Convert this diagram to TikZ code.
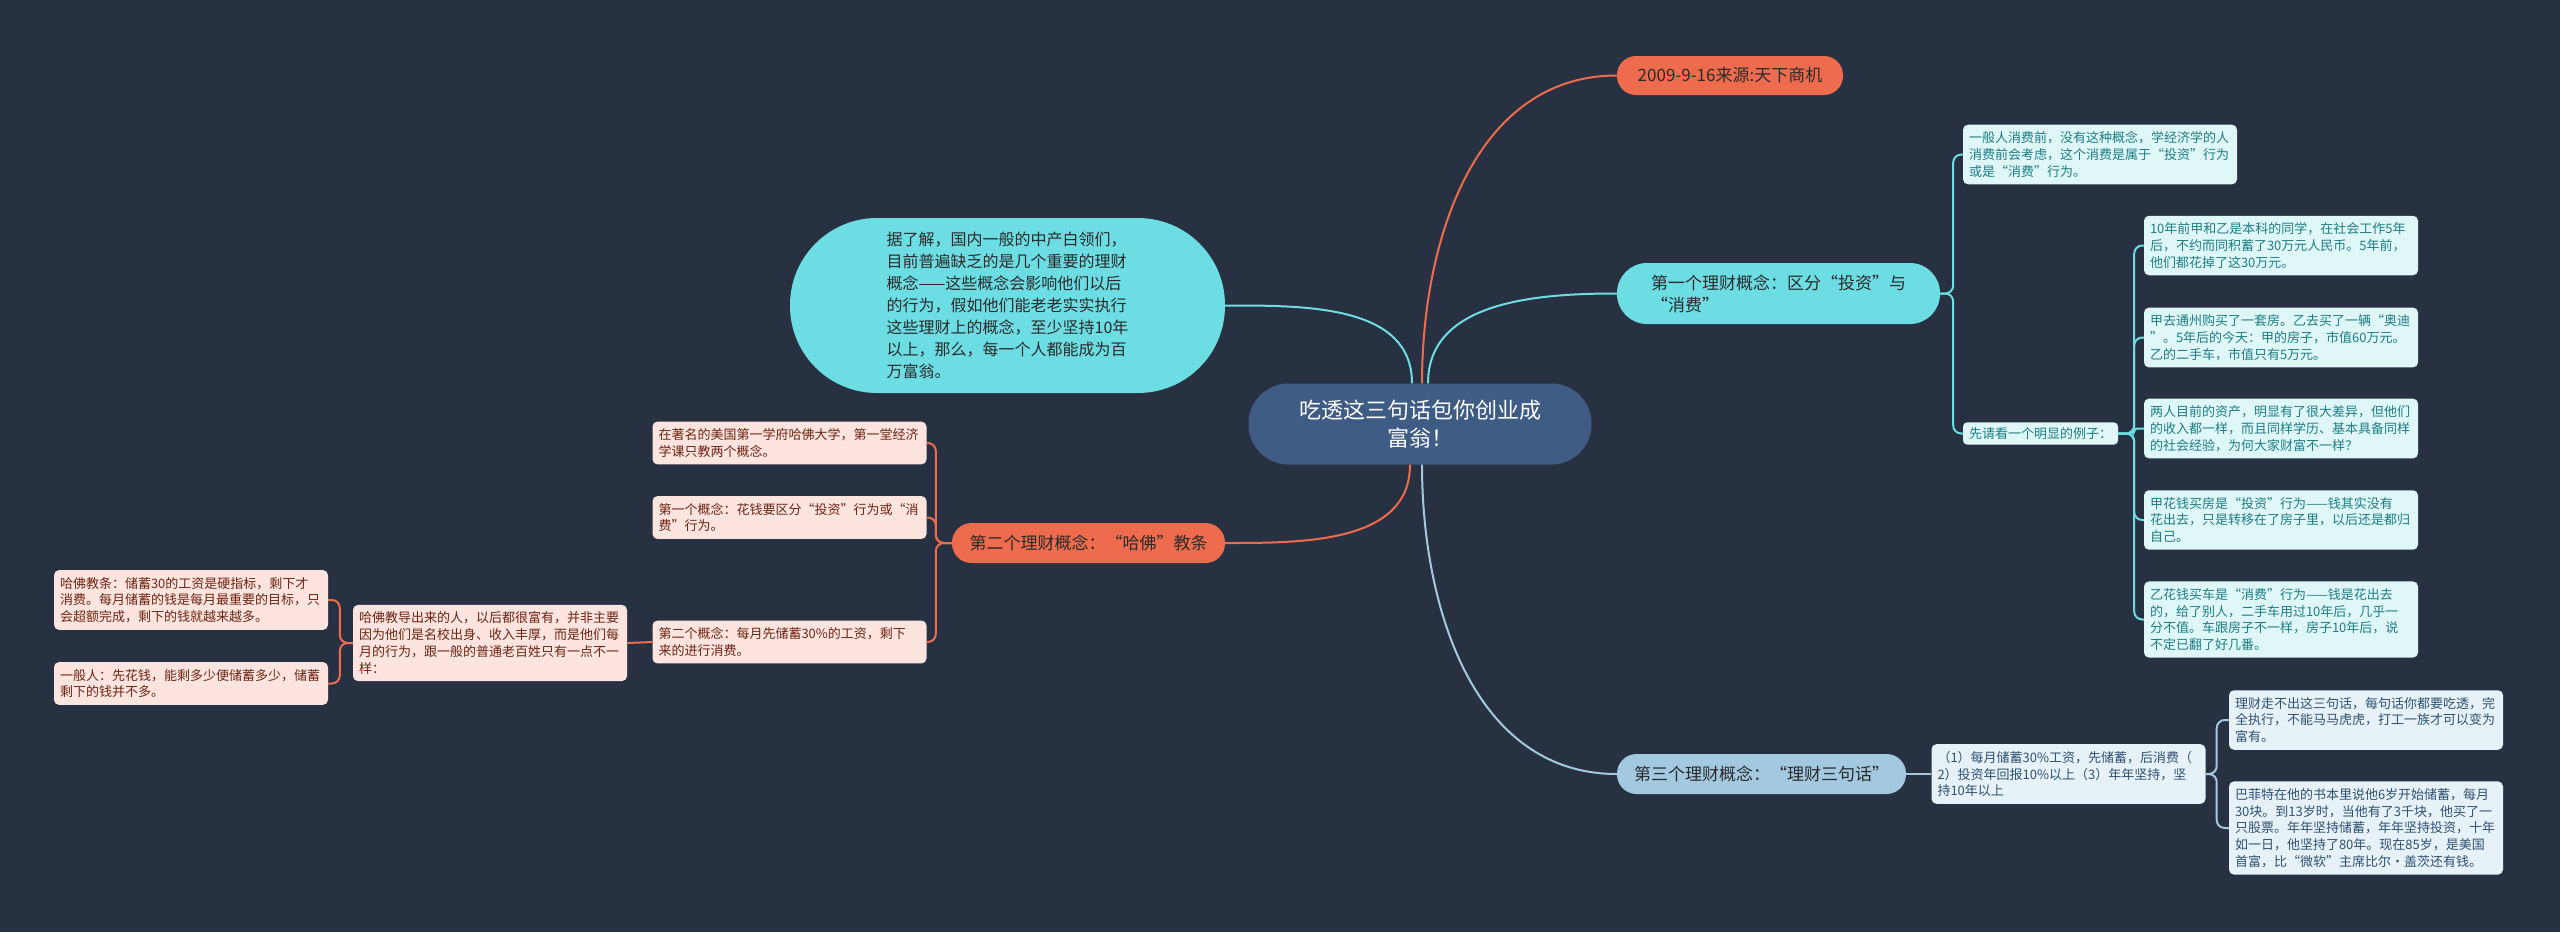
\documentclass[tikz,border=0pt]{standalone}
\usepackage{fontspec}
\setmainfont{Noto Sans CJK SC}
\usepackage{tikz}
\usetikzlibrary{positioning,calc}
\definecolor{bgcol}{HTML}{283142}
\definecolor{rootcol}{HTML}{3F5C85}
\definecolor{orcol}{HTML}{EE6C4D}
\definecolor{cycol}{HTML}{6BDDE3}
\definecolor{thcol}{HTML}{A3C9E1}
\definecolor{cyfill}{HTML}{E0F7F8}
\definecolor{cytxt}{HTML}{1B7E85}
\definecolor{orfill}{HTML}{FDE4DE}
\definecolor{ortxt}{HTML}{6E2414}
\definecolor{thfill}{HTML}{E6F1F8}
\definecolor{thtxt}{HTML}{2E5272}
\definecolor{darktxt}{HTML}{2A2A2A}
\newcommand\fsroot{\fontsize{22pt}{28pt}\selectfont}
\newcommand\fsmain{\fontsize{17pt}{22pt}\selectfont}
\newcommand\fsintro{\fontsize{16pt}{22pt}\selectfont}
\newcommand\fsbox{\fontsize{13pt}{16.7pt}\selectfont}

\begin{document}
\begin{tikzpicture}[x=1pt,y=-1pt]
\tikzstyle{pill}=[rectangle, draw=none, align=left, inner sep=0pt, text=darktxt, font=\fsmain]
\tikzstyle{box}=[rectangle, rounded corners=5pt, align=left, text width=262pt, inner xsep=6pt, inner ysep=7pt, font=\fsbox]
\tikzstyle{cybox}=[box, fill=cyfill, text=cytxt]
\tikzstyle{orbox}=[box, fill=orfill, text=ortxt]
\tikzstyle{thbox}=[box, fill=thfill, text=thtxt]
\tikzstyle{orline}=[draw=orcol, line width=2pt]
\tikzstyle{cyline}=[draw=cycol, line width=2pt]
\tikzstyle{thline}=[draw=thcol, line width=2pt]
\fill[bgcol] (0,0) rectangle (2560,932);
\useasboundingbox (0,0) rectangle (2560,932);
% main topics
\node[pill, fill=rootcol, text=white, font=\fsroot, align=center, minimum width=343pt, minimum height=81pt, rounded corners=40pt] (root) at (1420,424) {吃透这三句话包你创业成\\富翁！};
\node[pill, fill=orcol, minimum width=226pt, minimum height=39pt, rounded corners=19pt] (date) at (1730,75.5) {2009-9-16来源:天下商机};
\node[pill, fill=cycol, minimum width=323pt, minimum height=61pt, rounded corners=30pt] (first) at (1778.5,293.5) {第一个理财概念：区分“投资”与\\“消费”};
\node[pill, fill=cycol, font=\fsintro, minimum width=435pt, minimum height=175pt, rounded corners=87pt] (intro) at (1007.5,305.5) {据了解，国内一般的中产白领们，\\目前普遍缺乏的是几个重要的理财\\概念——这些概念会影响他们以后\\的行为，假如他们能老老实实执行\\这些理财上的概念，至少坚持10年\\以上，那么，每一个人都能成为百\\万富翁。};
\node[pill, fill=orcol, minimum width=273pt, minimum height=40pt, rounded corners=19.5pt] (second) at (1088.5,543) {第二个理财概念：“哈佛”教条};
\node[pill, fill=thcol, minimum width=289pt, minimum height=40pt, rounded corners=19.5pt] (third) at (1761.5,774) {第三个理财概念：“理财三句话”};
% first concept
\node[cybox] (f1) at (2100,154.5) {一般人消费前，没有这种概念，学经济学的人\\消费前会考虑，这个消费是属于“投资”行为\\或是“消费”行为。};
\node[rectangle, rounded corners=4pt, fill=cyfill, text=cytxt, font=\fsbox, inner xsep=6pt, inner ysep=5pt] (f2) at (2040.5,433.5) {先请看一个明显的例子：};
\node[cybox] (e1) at (2281,245.5) {10年前甲和乙是本科的同学，在社会工作5年\\后，不约而同积蓄了30万元人民币。5年前，\\他们都花掉了这30万元。};
\node[cybox] (e2) at (2281,337.5) {甲去通州购买了一套房。乙去买了一辆“奥迪\\”。5年后的今天：甲的房子，市值60万元。\\乙的二手车，市值只有5万元。};
\node[cybox] (e3) at (2281,428.5) {两人目前的资产，明显有了很大差异，但他们\\的收入都一样，而且同样学历、基本具备同样\\的社会经验，为何大家财富不一样？};
\node[cybox] (e4) at (2281,520) {甲花钱买房是“投资”行为——钱其实没有\\花出去，只是转移在了房子里，以后还是都归\\自己。};
\node[cybox] (e5) at (2281,619.5) {乙花钱买车是“消费”行为——钱是花出去\\的，给了别人，二手车用过10年后，几乎一\\分不值。车跟房子不一样，房子10年后，说\\不定已翻了好几番。};
% third concept
\node[thbox] (t1) at (2068.5,774) {（1）每月储蓄30\%工资，先储蓄，后消费（\\2）投资年回报10\%以上（3）年年坚持，坚\\持10年以上};
\node[thbox] (t2) at (2366,720) {理财走不出这三句话，每句话你都要吃透，完\\全执行，不能马马虎虎，打工一族才可以变为\\富有。};
\node[thbox] (t3) at (2366,828) {巴菲特在他的书本里说他6岁开始储蓄，每月\\30块。到13岁时，当他有了3千块，他买了一\\只股票。年年坚持储蓄，年年坚持投资，十年\\如一日，他坚持了80年。现在85岁，是美国\\首富，比“微软”主席比尔·盖茨还有钱。};
% second concept
\node[orbox] (s1) at (789.5,443) {在著名的美国第一学府哈佛大学，第一堂经济\\学课只教两个概念。};
\node[orbox] (s2) at (789.5,517.5) {第一个概念：花钱要区分“投资”行为或“消\\费”行为。};
\node[orbox] (s3) at (789.5,642) {第二个概念：每月先储蓄30\%的工资，剩下\\来的进行消费。};
\node[orbox] (h1) at (490,643) {哈佛教导出来的人，以后都很富有，并非主要\\因为他们是名校出身、收入丰厚，而是他们每\\月的行为，跟一般的普通老百姓只有一点不一\\样：};
\node[orbox] (h2) at (191,600) {哈佛教条：储蓄30的工资是硬指标，剩下才\\消费。每月储蓄的钱是每月最重要的目标，只\\会超额完成，剩下的钱就越来越多。};
\node[orbox] (h3) at (191,683.5) {一般人：先花钱，能剩多少便储蓄多少，储蓄\\剩下的钱并不多。};
% links from root
\draw[orline] ([xshift=2pt]root.north) to[out=90, in=180] (date.west);
\draw[cyline] ([xshift=8pt]root.north) to[out=90, in=180] (first.west);
\draw[cyline] ([xshift=-8pt]root.north) to[out=90, in=0] (intro.east);
\draw[orline] ([xshift=-10pt]root.south) to[out=-90, in=0] (second.east);
\draw[thline] ([xshift=2pt]root.south) to[out=-90, in=180] (third.west);
% branches
\draw[cyline, rounded corners=8pt] (first.east) -- ++(13,0) |- (f1.west);
\draw[cyline, rounded corners=8pt] (first.east) -- ++(13,0) |- (f2.west);
\draw[cyline, rounded corners=8pt] (f2.east) -- ++(16,0) |- (e1.west);
\draw[cyline, rounded corners=8pt] (f2.east) -- ++(16,0) |- (e2.west);
\draw[cyline, rounded corners=3pt] (f2.east) -- ++(16,0) |- (e3.west);
\draw[cyline, rounded corners=8pt] (f2.east) -- ++(16,0) |- (e4.west);
\draw[cyline, rounded corners=8pt] (f2.east) -- ++(16,0) |- (e5.west);
\draw[thline] (third.east) -- (t1.west);
\draw[thline, rounded corners=8pt] (t1.east) -- ++(11,0) |- (t2.west);
\draw[thline, rounded corners=8pt] (t1.east) -- ++(11,0) |- (t3.west);
\draw[orline, rounded corners=8pt] (second.west) -- ++(-16,0) |- (s1.east);
\draw[orline, rounded corners=8pt] (second.west) -- ++(-16,0) |- (s2.east);
\draw[orline, rounded corners=8pt] (second.west) -- ++(-16,0) |- (s3.east);
\draw[orline] (s3.west) -- (h1.east);
\draw[orline, rounded corners=8pt] (h1.west) -- ++(-13,0) |- (h2.east);
\draw[orline, rounded corners=8pt] (h1.west) -- ++(-13,0) |- (h3.east);
\end{tikzpicture}
\end{document}
